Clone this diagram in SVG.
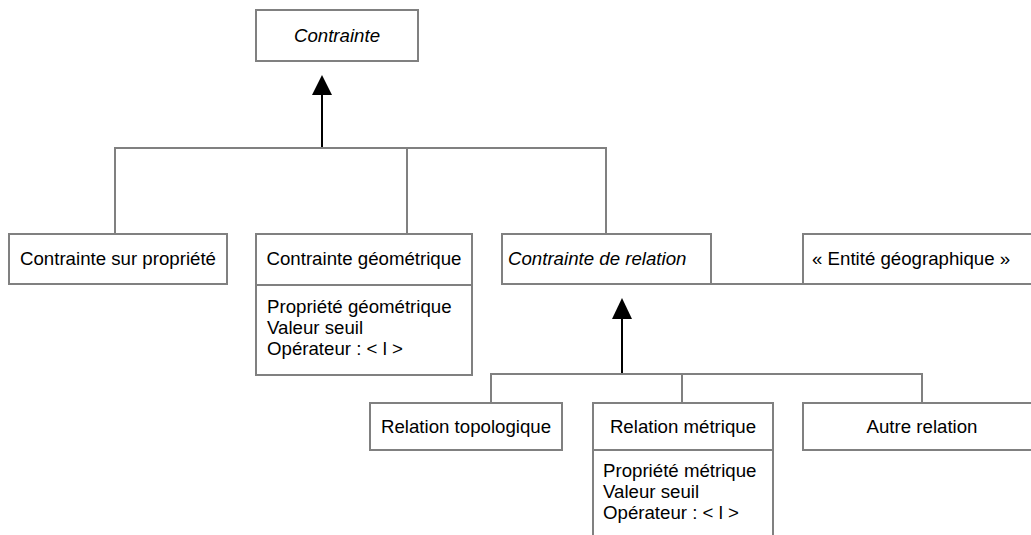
<svg xmlns="http://www.w3.org/2000/svg" width="1031" height="535" viewBox="0 0 1031 535">
<style>
.box{fill:#fff;stroke:#808080;stroke-width:2}
.ln{fill:none;stroke:#808080;stroke-width:2}
.ar{fill:none;stroke:#000;stroke-width:2}
.head{fill:#000;stroke:none}
text{font-family:"Liberation Sans",Arial,sans-serif;font-size:18.67px;fill:#000}
.it{font-style:italic}
.c{text-anchor:middle}
</style>
<rect width="1031" height="535" fill="#fff"/>
<g id="connectors">
<polyline class="ln" points="115,234 115,148 606,148 606,234"/>
<line class="ln" x1="407" y1="148" x2="407" y2="234"/>
<line class="ar" x1="322" y1="94" x2="322" y2="147"/>
<polygon class="head" points="322,75 312,95 332,95"/>
<polyline class="ln" points="491,403 491,374 922,374 922,403"/>
<line class="ln" x1="682" y1="374" x2="682" y2="403"/>
<line class="ar" x1="622" y1="318" x2="622" y2="373"/>
<polygon class="head" points="622,298 612,319 632,319"/>
<line class="ln" x1="711" y1="284" x2="803" y2="284"/>
</g>
<g id="contrainte">
<rect class="box" x="256" y="10" width="162" height="51"/>
<text class="it c" x="337" y="42">Contrainte</text>
</g>
<g id="contrainte-propriete">
<rect class="box" x="9" y="234" width="218" height="50"/>
<text class="c" x="118" y="265">Contrainte sur propriété</text>
</g>
<g id="contrainte-geometrique">
<rect class="box" x="256" y="234" width="216" height="141"/>
<line class="ln" x1="256" y1="285" x2="472" y2="285"/>
<text class="c" x="364" y="265">Contrainte géométrique</text>
<text x="267" y="313">Propriété géométrique</text>
<text x="267" y="334">Valeur seuil</text>
<text x="267" y="355">Opérateur : &lt; l &gt;</text>
</g>
<g id="contrainte-relation">
<rect class="box" x="502" y="234" width="209" height="50"/>
<text class="it" x="508" y="265">Contrainte de relation</text>
</g>
<g id="entite-geographique">
<rect class="box" x="803" y="234" width="240" height="50"/>
<text x="812" y="265">« Entité géographique »</text>
</g>
<g id="relation-topologique">
<rect class="box" x="370" y="403" width="192" height="47"/>
<text class="c" x="466" y="433">Relation topologique</text>
</g>
<g id="relation-metrique">
<rect class="box" x="593" y="403" width="180" height="150"/>
<line class="ln" x1="593" y1="450" x2="773" y2="450"/>
<text class="c" x="683" y="433">Relation métrique</text>
<text x="603" y="477">Propriété métrique</text>
<text x="603" y="498">Valeur seuil</text>
<text x="603" y="519">Opérateur : &lt; l &gt;</text>
</g>
<g id="autre-relation">
<rect class="box" x="803" y="403" width="240" height="47"/>
<text class="c" x="922" y="433">Autre relation</text>
</g>
</svg>
